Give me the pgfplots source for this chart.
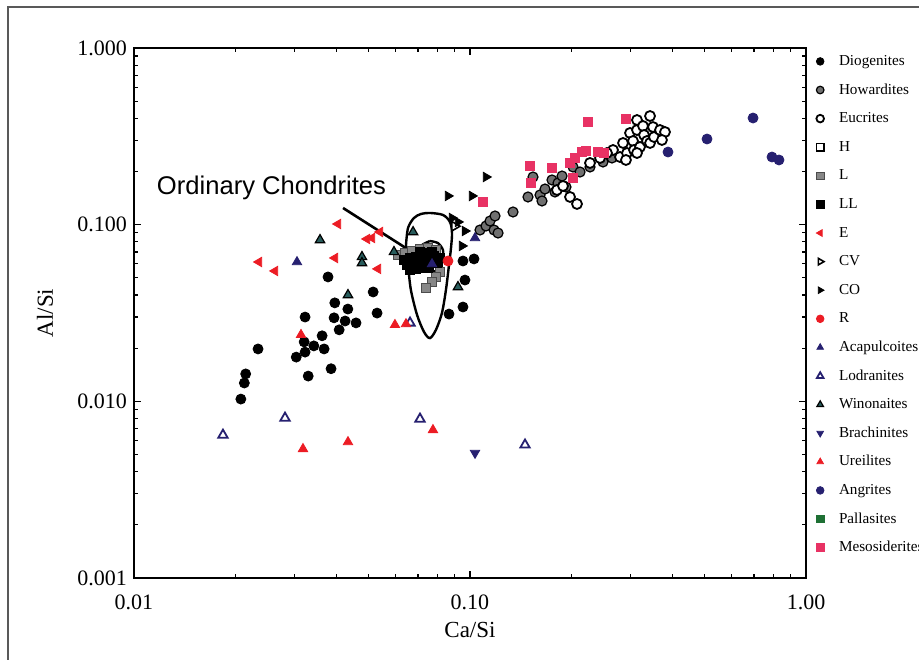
\documentclass[border=0pt]{standalone}
\usepackage{fontspec}
\setmainfont{Liberation Serif}
\newfontfamily\helv{Liberation Sans}
\usepackage{pgfplots}
\pgfplotsset{compat=1.18}
\definecolor{ared}{RGB}{236,28,36}
\definecolor{apink}{RGB}{232,50,100}
\definecolor{anavy}{RGB}{38,32,112}
\definecolor{ateal}{RGB}{40,92,92}
\definecolor{agray}{RGB}{112,112,112}
\definecolor{lgray}{RGB}{135,135,135}
\definecolor{agreen}{RGB}{30,112,52}

\pgfplotsset{
  pt/.style={only marks, mark size=2.5pt},
  sq/.style={only marks, mark=square*, mark size=2.3pt},
  tri/.style={only marks, mark=triangle*, mark size=2.7pt},
}

\begin{document}
\begin{tikzpicture}
\begin{axis}[
  at={(67pt,40.5pt)}, anchor=south west,
  width=336pt, height=265pt, scale only axis,
  xmode=log, ymode=log,
  xmin=0.01, xmax=1, ymin=0.001, ymax=1,
  xtick={0.01,0.1,1}, xticklabels={0.01,0.10,1.00},
  ytick={0.001,0.01,0.1,1}, yticklabels={0.001,0.010,0.100,1.000},
  tick align=inside, major tick length=3.5pt, minor tick length=2pt,
  axis line style={line width=0.8pt},
  every tick/.style={black, line width=0.6pt},
  tick label style={font=\fontsize{11}{13}\selectfont},
  xticklabel style={yshift=-5pt},
  xlabel={Ca/Si}, ylabel={Al/Si},
  label style={font=\fontsize{11.5}{13}\selectfont},
  xlabel style={at={([yshift=-26pt]axis description cs:0.5,0)}, anchor=center},
  ylabel style={at={([xshift=-44.5pt]axis description cs:0,0.5)}, anchor=center},
  legend style={draw=none, fill=none, at={([xshift=2pt,yshift=-1pt]rel axis cs:1,1)}, anchor=north west,
    font=\fontsize{7.6}{9}\selectfont, row sep=7.3pt, column sep=7.5pt,
    nodes={inner sep=0pt, text height=5.5pt, text depth=1.5pt}},
  legend cell align=left,
  legend image code/.code={\draw[mark repeat=2,mark phase=2,mark size=1.9pt] plot coordinates {(0cm,0cm)(0.15cm,0cm)(0.3cm,0cm)};},
]
% Diogenites
\addplot[pt, mark=*, mark options={fill=black, draw=black}] coordinates {
(0.0208,0.0103) (0.0213,0.0127) (0.0215,0.0143) (0.0234,0.0198) (0.0304,0.0178)
(0.0321,0.0217) (0.0323,0.0190) (0.0323,0.0300) (0.0330,0.0139) (0.0343,0.0206)
(0.0363,0.0235) (0.0368,0.0198) (0.0386,0.0153) (0.0378,0.0506) (0.0396,0.0361)
(0.0433,0.0333) (0.0394,0.0297) (0.0425,0.0285) (0.0458,0.0278) (0.0408,0.0254)
(0.0515,0.0416) (0.0529,0.0316) (0.0953,0.0623) (0.1028,0.0640) (0.0966,0.0486)
(0.0953,0.0342) (0.0866,0.0312)
};
\addlegendentry{Diogenites}
% Howardites
\addplot[pt, mark=*, mark options={fill=agray, draw=black, line width=0.6pt}] coordinates {
(0.1071,0.0933) (0.1116,0.0983) (0.1147,0.1049) (0.1179,0.0933) (0.1187,0.1120)
(0.1212,0.0897) (0.1343,0.1180) (0.1488,0.1435) (0.1540,0.1862) (0.1616,0.1473)
(0.1672,0.1592) (0.1638,0.1362) (0.1754,0.1791) (0.1790,0.1531) (0.1828,0.1722)
(0.1879,0.1886) (0.1931,0.1634) (0.2026,0.2121) (0.2126,0.1987) (0.2276,0.2121)
(0.2488,0.2264) (0.2646,0.2385)
};
\addlegendentry{Howardites}
% Eucrites
\addplot[pt, mark=*, mark options={fill=white, draw=black, line width=0.9pt}] coordinates {
(0.1815,0.1572) (0.1892,0.1656) (0.1985,0.1435) (0.2082,0.1310) (0.2276,0.2235)
(0.2438,0.2385) (0.2665,0.2647) (0.2795,0.2416) (0.2854,0.2900) (0.2933,0.2545)
(0.2994,0.3304) (0.3056,0.2977) (0.3077,0.2647) (0.3141,0.3913) (0.3141,0.3435)
(0.3206,0.2753) (0.3273,0.3619) (0.3296,0.3218) (0.3364,0.2977) (0.3434,0.4122)
(0.3434,0.2900) (0.3505,0.3571) (0.3529,0.3135) (0.3677,0.3435) (0.3805,0.3347)
(0.3727,0.3016) (0.3141,0.2545) (0.2912,0.2324) (0.2557,0.2545)
};
\addlegendentry{Eucrites}
% H
\addplot[sq, mark options={fill=white, draw=black, line width=0.8pt}] coordinates {
(0.0640,0.0650) (0.0800,0.0580)
};
\addlegendentry{H}
% L
\addplot[sq, mark options={fill=lgray, draw=black!70, line width=0.5pt}] coordinates {
(0.0611,0.0674) (0.0641,0.0692) (0.0672,0.0710) (0.0710,0.0729) (0.0750,0.0738)
(0.0792,0.0719) (0.0814,0.0540) (0.0792,0.0506) (0.0771,0.0474) (0.0740,0.0438)
};
\addlegendentry{L}
% LL
\addplot[sq, mark options={fill=black, draw=black}] coordinates {
(0.0636,0.0631) (0.0663,0.0648) (0.0691,0.0657) (0.0720,0.0665) (0.0750,0.0674)
(0.0781,0.0665) (0.0814,0.0648) (0.0649,0.0591) (0.0677,0.0599) (0.0705,0.0607)
(0.0735,0.0615) (0.0766,0.0615) (0.0797,0.0607) (0.0663,0.0554) (0.0691,0.0562)
(0.0720,0.0569) (0.0750,0.0569) (0.0710,0.0701) (0.0740,0.0692) (0.0771,0.0701)
};
\addlegendentry{LL}
% E
\addplot[tri, mark options={fill=ared, draw=ared, rotate=90}] coordinates {
(0.02355,0.0615) (0.02629,0.0547) (0.04047,0.1009) (0.03964,0.0648) (0.04938,0.0830)
(0.05110,0.0841) (0.05396,0.0909) (0.05323,0.0562)
};
\addlegendentry{E}
% CV
\addplot[tri, mark options={fill=white, draw=black, line width=0.8pt, rotate=-90}] coordinates {
(0.0900,0.0980)
};
\addlegendentry{CV}
% CO
\addplot[tri, mark options={fill=black, draw=black, rotate=-90}] coordinates {
(0.0860,0.1454) (0.1014,0.1454) (0.1116,0.1862) (0.0884,0.1091) (0.0921,0.1036)
(0.0966,0.0921) (0.0947,0.0758)
};
\addlegendentry{CO}
% R
\addplot[pt, mark=*, mark options={fill=ared, draw=ared}] coordinates {
(0.0860,0.0623)
};
\addlegendentry{R}
% Acapulcoites
\addplot[tri, mark options={fill=anavy, draw=anavy}] coordinates {
(0.03056,0.0615) (0.0771,0.0599) (0.1035,0.0841)
};
\addlegendentry{Acapulcoites}
% Lodranites
\addplot[tri, mark options={fill=white, draw=anavy, line width=0.9pt}] coordinates {
(0.0184,0.00645) (0.02815,0.00805) (0.0710,0.00795) (0.1458,0.00567) (0.0663,0.0278)
};
\addlegendentry{Lodranites}
% Winonaites
\addplot[tri, mark options={fill=ateal, draw=black, line width=0.6pt}] coordinates {
(0.03578,0.0819) (0.0477,0.0657) (0.0477,0.0607) (0.04334,0.0400) (0.0594,0.0701)
(0.0677,0.0909) (0.0921,0.0444)
};
\addlegendentry{Winonaites}
% Brachinites
\addplot[tri, mark options={fill=anavy, draw=anavy, rotate=180}] coordinates {
(0.1035,0.0051)
};
\addlegendentry{Brachinites}
% Ureilites
\addplot[tri, mark options={fill=ared, draw=ared}] coordinates {
(0.03184,0.00538) (0.04334,0.00589) (0.0776,0.00689) (0.03141,0.0238) (0.0598,0.0271)
(0.0645,0.0274)
};
\addlegendentry{Ureilites}
% Angrites
\addplot[pt, mark=*, mark options={fill=anavy, draw=anavy}] coordinates {
(0.3885,0.2578) (0.5075,0.3055) (0.6957,0.4016) (0.7922,0.2416) (0.8311,0.2324)
};
\addlegendentry{Angrites}
% Pallasites (no points visible)
\addlegendimage{sq, mark options={fill=agreen, draw=agreen}}
\addlegendentry{Pallasites}
% Mesosiderites
\addplot[sq, mark options={fill=apink, draw=apink}] coordinates {
(0.1093,0.1345) (0.1509,0.2149) (0.1519,0.1722) (0.1754,0.2094) (0.2026,0.1837)
(0.1985,0.2235) (0.2054,0.2385) (0.2154,0.2578) (0.2214,0.2612) (0.2405,0.2578)
(0.2504,0.2545) (0.2244,0.3814) (0.2912,0.3964)
};
\addlegendentry{Mesosiderites}

% ordinary chondrite contours
\addplot[black, line width=1.2pt, smooth, forget plot] coordinates {
(0.0645,0.0767) (0.0654,0.0958) (0.0681,0.1091) (0.0715,0.1150) (0.0760,0.1165)
(0.0831,0.1135) (0.0872,0.1036) (0.0884,0.0897) (0.0878,0.0738) (0.0866,0.0591)
(0.0848,0.0427) (0.0825,0.0316) (0.0792,0.0254) (0.0760,0.0228) (0.0730,0.0247)
(0.0696,0.0308) (0.0667,0.0427) (0.0654,0.0591) (0.0645,0.0767)
};
\addplot[black, line width=1.2pt, smooth, forget plot] coordinates {
(0.0760,0.0808) (0.0803,0.0787) (0.0831,0.0719) (0.0831,0.0648) (0.0814,0.0591)
(0.0776,0.0562) (0.0735,0.0569) (0.0705,0.0615) (0.0700,0.0701) (0.0720,0.0767)
(0.0760,0.0808)
};
\addplot[black, line width=1.3pt, forget plot] coordinates {(0.0419,0.1243) (0.0672,0.0701)};
\node[anchor=base, font=\helv\fontsize{12.8}{15}\selectfont] at (axis cs:0.02566,0.149) {Ordinary Chondrites};
\end{axis}
\draw[line width=1.1pt, black!65] (4pt,-5pt) -- (4pt,326pt) -- (470pt,326pt);
\pgfresetboundingbox
\path (0,0) rectangle (459.5pt,329.5pt);
\end{tikzpicture}
\end{document}
